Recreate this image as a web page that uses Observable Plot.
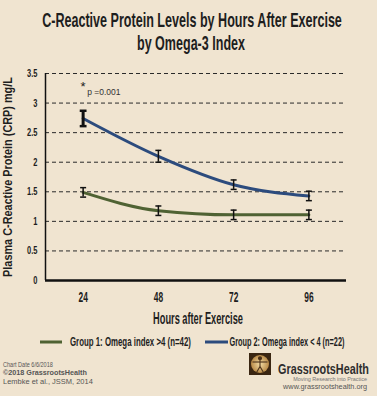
<!DOCTYPE html>
<html>
<head>
<meta charset="utf-8">
<script src="https://cdn.jsdelivr.net/npm/d3@7"></script>
<script src="https://cdn.jsdelivr.net/npm/@observablehq/plot@0.6"></script>
<style>
  html, body { margin: 0; padding: 0; }
  body { width: 377px; height: 396px; background: #f0e4d0; overflow: hidden; position: relative; }
  #titleSvg { position: absolute; top: 0; left: 0; }
  #chart { position: absolute; top: 60px; left: 0; }
  #bottomSvg { position: absolute; top: 326px; left: 0; }
  text { font-family: "Liberation Sans", Arial, sans-serif; }
</style>
</head>
<body>
<svg id="titleSvg" width="377" height="60"></svg>
<div id="chart"></div>
<svg id="bottomSvg" width="377" height="70"></svg>
<script>
// ---- data ----
const titleLines = ["C-Reactive Protein Levels by Hours After Exercise", "by Omega-3 Index"];
const hours = [24, 48, 72, 96];
const group1Label = "Group 1: Omega index >4 (n=42)";
const group2Label = "Group 2: Omega index < 4 (n=22)";
const group1Mean = [1.49, 1.18, 1.11, 1.11];
const group1Err  = [0.08, 0.08, 0.08, 0.08];
const group2Mean = [2.74, 2.10, 1.62, 1.43];
const group2Err  = [0.13, 0.10, 0.08, 0.08];
const yTicks = [0, 0.5, 1, 1.5, 2, 2.5, 3, 3.5];
const yTickLabels = ["0", "0.5", "1", "1.5", "2", "2.5", "3", "3.5"];
const xTickLabels = ["24", "48", "72", "96"];
const xLabel = "Hours after Exercise";
const yLabel = "Plasma C-Reactive Protein (CRP) mg/L";
const annotationStar = "*";
const annotationP = "p =0.001";
const footerLines = ["Chart Date 6/6/2018", "©2018 GrassrootsHealth", "Lembke et al., JSSM, 2014"];
const brandName = "GrassrootsHealth";
const brandTagline = "Moving Research into Practice";
const brandUrl = "www.grassrootshealth.org";

const green = "#4f6233";
const blue = "#2c4b7d";
const ink = "#1e1e1e";

const rows = [];
hours.forEach((h, i) => rows.push({group: group1Label, hour: h, mean: group1Mean[i], err: group1Err[i], i}));
hours.forEach((h, i) => rows.push({group: group2Label, hour: h, mean: group2Mean[i], err: group2Err[i], i}));
const g1 = rows.filter(d => d.group === group1Label);
const g2 = rows.filter(d => d.group === group2Label);

const capSymbol = {
  draw(ctx, size) {
    const r = Math.sqrt(size / Math.PI);
    ctx.moveTo(-r, 0);
    ctx.lineTo(r, 0);
  }
};
const isBold = d => d.group === group2Label && d.i === 0;
const font = '"Liberation Sans", Arial, sans-serif';

const chart = Plot.plot({
  width: 377,
  height: 272,
  marginTop: 13,
  marginBottom: 52,
  marginLeft: 45,
  marginRight: 31,
  style: {background: "transparent", fontFamily: font, fontWeight: "bold", color: ink},
  x: {type: "linear", domain: [12, 108]},
  y: {domain: [0, 3.5]},
  marks: [
    Plot.ruleY(yTicks.filter(d => d > 0), {stroke: "#2a2a2a", strokeWidth: 1, strokeDasharray: "4,3"}),
    Plot.ruleX([12], {stroke: "#111", strokeWidth: 1.5}),
    Plot.ruleY([0], {stroke: "#111", strokeWidth: 2.5}),
    Plot.axisY({ticks: yTicks, tickFormat: (d) => yTickLabels[yTicks.indexOf(d)], tickSize: 0, tickPadding: 8, label: null, fontSize: 11}),
    Plot.axisX({ticks: hours, tickFormat: (d) => xTickLabels[hours.indexOf(d)], tickSize: 0, tickPadding: 12, label: null, fontSize: 14}),
    Plot.text([xLabel], {frameAnchor: "bottom", textAnchor: "middle", lineAnchor: "top", dy: 32, dx: 2, fontSize: 16, fontWeight: "bold", fill: ink}),
    Plot.text([yLabel], {frameAnchor: "left", textAnchor: "middle", rotate: -90, lineAnchor: "middle", dx: -38, fontSize: 12.5, fontWeight: "bold", fill: ink}),
    Plot.line(g1, {x: "hour", y: "mean", stroke: green, strokeWidth: 3, curve: "monotone-x"}),
    Plot.line(g2, {x: "hour", y: "mean", stroke: blue, strokeWidth: 3, curve: "monotone-x"}),
    Plot.ruleX(rows, {x: "hour", y1: d => d.mean - d.err, y2: d => d.mean + d.err, stroke: "#111", strokeWidth: d => isBold(d) ? 3 : 1.5}),
    Plot.dot(rows, {x: "hour", y: d => d.mean + d.err, symbol: capSymbol, r: d => isBold(d) ? 4.5 : 3.5, stroke: "#111", strokeWidth: d => isBold(d) ? 2.5 : 1.5, fill: "none"}),
    Plot.dot(rows, {x: "hour", y: d => d.mean - d.err, symbol: capSymbol, r: d => isBold(d) ? 4.5 : 3.5, stroke: "#111", strokeWidth: d => isBold(d) ? 2.5 : 1.5, fill: "none"}),
    Plot.text([annotationStar], {x: hours[0], y: 3.28, text: d => d, fontSize: 13, fontWeight: "normal", fill: "#222"}),
    Plot.text([annotationP], {x: hours[0], y: 3.18, text: d => d, fontSize: 8.5, fontWeight: "normal", fill: "#333", textAnchor: "start", dx: 4})
  ]
});
document.getElementById("chart").appendChild(chart);

// No condensed face is installed: narrow the display texts horizontally (in their own direction)
function condense(el, f) {
  const x = el.getAttribute("x");
  const tr = el.getAttribute("transform") || "";
  let pre = tr;
  if (x !== null && x !== "" && !isNaN(+x)) { pre += ` translate(${+x},0)`; el.removeAttribute("x"); }
  el.setAttribute("transform", `${pre} scale(${f},1)`.trim());
}
function fit(el, target) { condense(el, target / el.getComputedTextLength()); }

d3.select(chart).selectAll("text").each(function() {
  const t = this.textContent;
  if (this.closest('[aria-label="x-axis tick label"]')) condense(this, 0.6);
  else if (this.closest('[aria-label="y-axis tick label"]')) condense(this, 0.68);
  else if (t === xLabel) fit(this, 90);
  else if (t === yLabel) fit(this, 200);
});

function addText(sel, s, x, y, size, weight, fill, anchor, width) {
  const el = sel.append("text").attr("transform", `translate(${x},${y})`).attr("text-anchor", anchor)
    .attr("font-size", size).attr("font-weight", weight).attr("fill", fill).text(s).node();
  if (width) fit(el, width);
  return el;
}

// title
const ts = d3.select("#titleSvg");
addText(ts, titleLines[0], 192, 26.7, 20, "bold", ink, "middle", 300);
addText(ts, titleLines[1], 191, 50, 20, "bold", ink, "middle", 108);

// legend + footer (coordinates relative to y=326)
const bs = d3.select("#bottomSvg");
const oy = 326;
[[group1Label, green, 40, 62, 70, 121], [group2Label, blue, 205, 228, 229.5, 115]].forEach(([label, color, x1, x2, tx, tw]) => {
  bs.append("line").attr("x1", x1).attr("x2", x2).attr("y1", 342 - oy).attr("y2", 342 - oy)
    .attr("stroke", color).attr("stroke-width", 3);
  addText(bs, label, tx, 345.5 - oy, 13, "bold", ink, "start", tw);
});
const fl = [[366.5, "normal", 50], [375, "bold", 84], [384, "normal", 90]];
footerLines.forEach((s, i) => addText(bs, s, 3, fl[i][0] - oy, 6.8, fl[i][1], "#555", "start", fl[i][2]));

// brand logo
const grad = bs.append("defs").append("radialGradient").attr("id", "lg");
grad.append("stop").attr("offset", "0%").attr("stop-color", "#f3dca4");
grad.append("stop").attr("offset", "100%").attr("stop-color", "#b88a48");
const logo = bs.append("g").attr("transform", `translate(249,${353 - oy})`);
logo.append("rect").attr("width", 22).attr("height", 22).attr("fill", "#3a2612");
logo.append("circle").attr("cx", 11).attr("cy", 11).attr("r", 9).attr("fill", "url(#lg)");
const fig = logo.append("g").attr("stroke", "#4a3018").attr("stroke-width", 1.1).attr("fill", "none");
fig.append("circle").attr("cx", 11).attr("cy", 5.3).attr("r", 1.5).attr("fill", "#4a3018");
fig.append("line").attr("x1", 11).attr("y1", 6.8).attr("x2", 11).attr("y2", 13.5);
fig.append("line").attr("x1", 3.5).attr("y1", 9).attr("x2", 18.5).attr("y2", 9);
fig.append("line").attr("x1", 11).attr("y1", 13.5).attr("x2", 7.5).attr("y2", 19.5);
fig.append("line").attr("x1", 11).attr("y1", 13.5).attr("x2", 14.5).attr("y2", 19.5);
addText(bs, brandName, 278, 373.8 - oy, 14, "bold", "#2e2e2e", "start", 91);
addText(bs, brandTagline, 367, 381.2 - oy, 5, "normal", "#777", "end", 74);
addText(bs, brandUrl, 367, 389.2 - oy, 7.5, "normal", "#555", "end", 84);
</script>
</body>
</html>
